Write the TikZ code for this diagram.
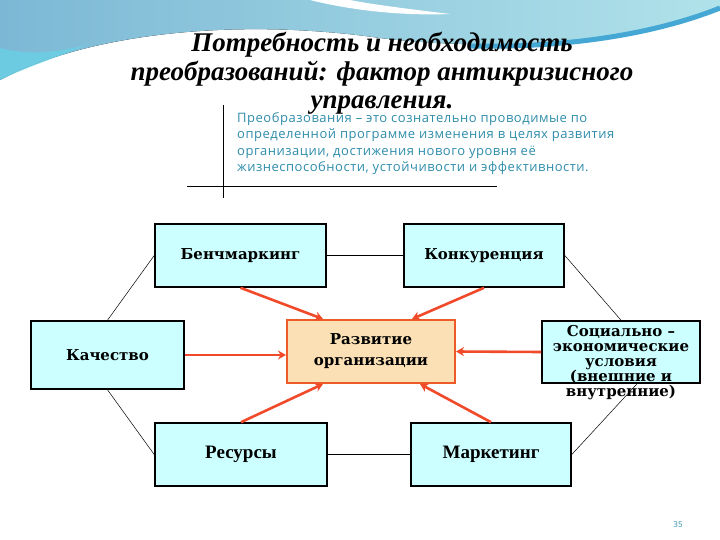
\documentclass[tikz,border=0pt]{standalone}
\usepackage{fontspec}
\setmainfont{DejaVu Serif}
\newfontfamily\titlefont{Liberation Serif}
\newfontfamily\defnfont[LetterSpace=4]{Open Sans}
\newfontfamily\pagefont{Open Sans}
\newfontfamily\timesfont{Liberation Serif}
\usetikzlibrary{arrows.meta,positioning}

\definecolor{boxcyan}{HTML}{CCFFFF}
\definecolor{hubfill}{HTML}{FAE0B4}
\definecolor{hubline}{HTML}{EE5A28}
\definecolor{arrowred}{HTML}{F04A2A}
\definecolor{defteal}{HTML}{2E8CAA}
\definecolor{skyblue}{HTML}{7CB8D5}
\definecolor{skycyan}{HTML}{62D8EA}
\definecolor{skylight}{HTML}{B0E2EA}
\definecolor{skyband}{HTML}{45A8D4}

\tikzset{
  box/.style={draw=black, line width=1.6pt, fill=boxcyan, inner sep=0pt,
    minimum height=63pt, font=\bfseries\fontsize{15}{17}\selectfont},
  hub/.style={draw=hubline, line width=2pt, fill=hubfill, inner sep=0pt,
    minimum width=168pt, minimum height=63pt, align=center,
    font=\bfseries\fontsize{15}{21}\selectfont},
  link/.style={draw=black, line width=0.5pt},
  feed/.style={draw=arrowred, line width=2.6pt, -{Stealth[length=8pt,width=9pt]}}
}

\begin{document}
\begin{tikzpicture}[x=1pt, y=-1pt]
\useasboundingbox (0,0) rectangle (720,540);

% Sky swoosh
\fill[left color=skyblue, right color=skylight] (0,0) -- (0,80)
  .. controls (90,32) and (240,18) .. (380,38)
  .. controls (480,50) and (620,48) .. (720,8) -- (720,0) -- cycle;
\fill[skycyan, opacity=0.6] (0,48) .. controls (30,56) and (60,52) .. (90,44)
  .. controls (50,60) and (20,70) .. (0,80) -- cycle;
\fill[white] (310,0) .. controls (350,10) and (400,16) .. (450,14)
  .. controls (400,8) and (370,4) .. (350,0) -- cycle;
\draw[skyband, line width=5pt] (470,46) .. controls (560,48) and (650,36) .. (720,8);

% Title
\node[font=\titlefont\bfseries\itshape\fontsize{27}{28.5}\selectfont, align=center,
  anchor=north] (title) at (382,29)
  {Потребность и необходимость\\преобразований: фактор антикризисного\\управления.};

% Definition
\draw[line width=0.6pt] (223,105) -- (223,198);
\draw[line width=0.6pt] (187,186) -- (497,186);
\node[font=\defnfont\fontsize{13}{16.5}\selectfont, text=defteal, align=left,
  anchor=north west, inner sep=0pt] (defn) at (237,112)
  {Преобразования – это сознательно проводимые по\\
   определенной программе изменения в целях развития\\
   организации, достижения нового уровня  её\\
   жизнеспособности, устойчивости и эффективности.};

% Factors
\node[box, minimum width=171pt] (bench) at (240.5,255.5) {Бенчмаркинг};
\node[box, minimum width=160pt] (konk) at (484,255.5) {Конкуренция};
\node[box, minimum width=153pt, minimum height=68pt] (kach) at (107.5,355) {Качество};
\node[box, minimum width=158pt, minimum height=62pt] (soc) at (621,352) {};
\node[font=\bfseries\fontsize{15}{15}\selectfont, align=center, anchor=north,
  inner sep=0pt] (soctext) at (621,325)
  {Социально –\\экономические\\условия\\(внешние и\\внутренние)};
\node[box, minimum width=172pt, font=\timesfont\bfseries\fontsize{19}{21}\selectfont]
  (res) at (241,454.5) {Ресурсы};
\node[box, minimum width=160pt, font=\timesfont\bfseries\fontsize{19}{21}\selectfont]
  (mark) at (491,454.5) {Маркетинг};

% Centre
\node[hub] (razv) at (371,351.5) {Развитие\\организации};

% Ring of links
\draw[link] (bench.west) -- (kach.north);
\draw[link] (kach.south) -- (res.west);
\draw[link] (bench.east) -- (konk.west);
\draw[link] (konk.east) -- (soc.north);
\draw[link] ([xshift=16pt]soc.south) -- (mark.east);
\draw[link] (res.east) -- (mark.west);

% Influences
\draw[feed] (bench.south) -- ([xshift=-48pt]razv.north);
\draw[feed] (konk.south) -- ([xshift=41pt]razv.north);
\draw[feed] (kach.east) -- (kach.east -| razv.west);
\draw[feed] (soc.west) -- (razv.east);
\draw[feed] (res.north) -- ([xshift=-48pt]razv.south);
\draw[feed] (mark.north) -- ([xshift=49pt]razv.south);

% Page number
\node[font=\pagefont\fontsize{8}{9}\selectfont, text=defteal] (page) at (678,525) {35};
\end{tikzpicture}
\end{document}
